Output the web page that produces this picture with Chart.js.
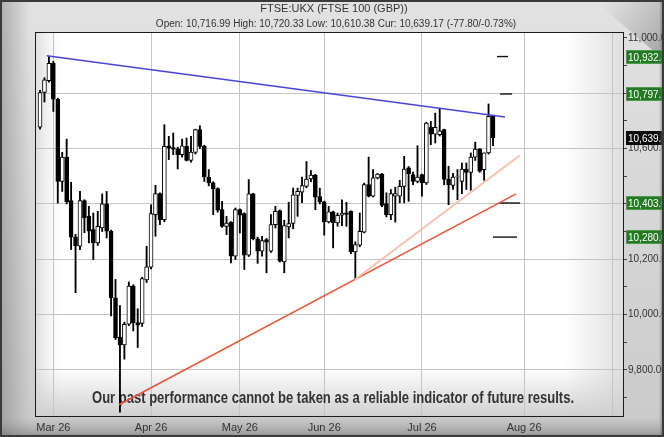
<!DOCTYPE html>
<html>
<head>
<meta charset="utf-8">
<script src="https://cdn.jsdelivr.net/npm/chart.js@4"></script>
<style>
  html, body { margin: 0; padding: 0; background: #d6d6d6; }
  canvas { display: block; }
</style>
</head>
<body>
<canvas id="chart" width="664" height="437"></canvas>
<script>
"use strict";

// ── Daily OHLC, one slot per trading day (late Feb → late Jul) ─────────────
const opens = [
  10677, 10803, 10845, 10908, 10778, 10481, 10569, 10412, 10281, 10247,
  10412, 10355, 10307, 10259, 10313, 10400, 10301, 10061, 9919, 9890,
  9965, 10103, 9971, 9968, 10125, 10171, 10361, 10437, 10343, 10610,
  10603, 10599, 10578, 10608, 10557, 10586, 10668, 10608, 10497, 10476,
  10455, 10379, 10319, 10334, 10211, 10379, 10365, 10215, 10436, 10274,
  10229, 10271, 10229, 10325, 10376, 10190, 10317, 10329, 10431, 10442,
  10463, 10490, 10504, 10426, 10407, 10335, 10371, 10331, 10359, 10368,
  10373, 10226, 10251, 10298, 10470, 10428, 10494, 10508, 10401, 10361,
  10428, 10428, 10463, 10530, 10506, 10481, 10506, 10476, 10677, 10652,
  10650, 10668, 10490, 10467, 10497, 10481, 10526, 10514, 10569, 10598,
  10524, 10584, 10717
];
const highs = [
  10810, 10856, 10932, 10915, 10782, 10586, 10634, 10478, 10290, 10445,
  10415, 10391, 10367, 10373, 10436, 10445, 10305, 10127, 10033, 9973,
  10118, 10108, 10021, 10135, 10247, 10397, 10467, 10440, 10686, 10644,
  10656, 10605, 10634, 10638, 10644, 10670, 10682, 10612, 10524, 10480,
  10458, 10409, 10355, 10336, 10385, 10382, 10368, 10488, 10438, 10280,
  10283, 10275, 10361, 10391, 10378, 10341, 10406, 10457, 10457, 10497,
  10553, 10521, 10507, 10457, 10410, 10391, 10374, 10367, 10415, 10406,
  10375, 10263, 10367, 10475, 10569, 10524, 10510, 10510, 10440, 10452,
  10460, 10485, 10572, 10535, 10515, 10610, 10508, 10695, 10698, 10728,
  10746, 10670, 10536, 10510, 10524, 10548, 10548, 10584, 10623, 10600,
  10584, 10761, 10720
];
const lows = [
  10670, 10768, 10840, 10734, 10403, 10445, 10400, 10235, 10079, 10235,
  10296, 10259, 10199, 10250, 10300, 10277, 9995, 9910, 9647, 9839,
  9960, 9941, 9881, 9957, 10116, 10165, 10283, 10325, 10335, 10560,
  10578, 10526, 10569, 10555, 10551, 10580, 10600, 10481, 10465, 10361,
  10370, 10315, 10289, 10187, 10199, 10295, 10163, 10210, 10270, 10185,
  10211, 10151, 10225, 10313, 10190, 10151, 10277, 10310, 10355, 10404,
  10458, 10480, 10379, 10400, 10287, 10331, 10241, 10319, 10321, 10319,
  10220, 10127, 10245, 10295, 10425, 10425, 10490, 10390, 10353, 10343,
  10334, 10404, 10404, 10409, 10469, 10476, 10428, 10470, 10614, 10620,
  10645, 10469, 10397, 10452, 10415, 10437, 10452, 10449, 10557, 10514,
  10485, 10580, 10610
];
const closes = [
  10802, 10848, 10908, 10778, 10481, 10569, 10407, 10280, 10248, 10412,
  10349, 10301, 10259, 10319, 10400, 10301, 10061, 9917, 9890, 9965,
  10103, 9971, 9962, 10130, 10173, 10365, 10437, 10343, 10608, 10602,
  10598, 10578, 10610, 10557, 10587, 10668, 10608, 10497, 10476, 10454,
  10377, 10319, 10331, 10211, 10379, 10359, 10215, 10436, 10274, 10229,
  10267, 10262, 10325, 10373, 10193, 10322, 10329, 10433, 10445, 10466,
  10490, 10504, 10424, 10407, 10335, 10371, 10331, 10359, 10367, 10362,
  10226, 10253, 10301, 10470, 10428, 10494, 10508, 10394, 10361, 10437,
  10437, 10463, 10526, 10509, 10481, 10497, 10476, 10692, 10652, 10677,
  10664, 10488, 10469, 10497, 10499, 10526, 10514, 10569, 10598, 10518,
  10584, 10716, 10639
];

// month gridlines sit on the first trading day of each month
const monthIdx = [3, 25, 45, 64, 86, 109, 129];
const monthLabels = ["Mar 26", "Apr 26", "May 26", "Jun 26", "Jul 26", "Aug 26", ""];

// trend lines: [start, end] as slot index and price
const resistX = [1.5, 104.7];
const resistY = [10935, 10714];
const supportX = [17.8, 107.2];
const supportY = [9674, 10436];
const innerSupportX = [70.9, 108];
const innerSupportY = [10127, 10575];

// target levels: short dashes near the last candle plus boxes on the axis
const targetLevels = [10932.3, 10797.1, 10403.0, 10280.0];
const targetFrom = [102.9, 103.6, 103.4, 102.0];
const targetTo = [105.4, 106.3, 108.1, 107.4];
const currentPrice = 10639.17;

const title = "FTSE:UKX (FTSE 100 (GBP))";
const subtitle = "Open: 10,716.99 High: 10,720.33 Low: 10,610.38 Cur: 10,639.17 (-77.80/-0.73%)";
const disclaimer = "Our past performance cannot be taken as a reliable indicator of future results.";

const fmt2 = (v) => v.toLocaleString("en-US", { minimumFractionDigits: 2, maximumFractionDigits: 2 });
const SANS = '"Liberation Sans", Arial, sans-serif';

// ── datasets ─────────────────────────────────────────────────────────────
const bodies = opens.map((o, i) => {
  let lo = Math.min(o, closes[i]), hi = Math.max(o, closes[i]);
  if (hi - lo < 2) { lo -= 1; hi += 1; }
  return { x: i, y: [lo, hi] };
});
const wicks = highs.map((h, i) => ({ x: i, y: [lows[i], h] }));
const seg = (xs, ys) => xs.map((x, i) => ({ x, y: ys[i] }));

const lineDs = (data, color, width) => ({
  type: "line", data, borderColor: color, borderWidth: width,
  pointRadius: 0, tension: 0, order: 0,
});

const datasets = [
  {
    type: "bar", data: bodies, order: 1, grouped: false, barThickness: 4,
    backgroundColor: (c) => (closes[c.dataIndex] >= opens[c.dataIndex] ? "#ffffff" : "#000000"),
    borderColor: "#000000", borderWidth: 1, borderSkipped: false,
  },
  { type: "bar", data: wicks, order: 2, grouped: false, barThickness: 1.2, backgroundColor: "#000000" },
  lineDs(seg(innerSupportX, innerSupportY), "#f3c3ae", 2),
  lineDs(seg(supportX, supportY), "#e8583c", 1.6),
  lineDs(seg(resistX, resistY), "#4646d8", 1.5),
];
targetLevels.forEach((lv, k) => {
  datasets.push(lineDs(seg([targetFrom[k], targetTo[k]], [lv, lv]), "#111111", 1.4));
});

// ── frame, backgrounds and overlay text ──────────────────────────────────
const framePlugin = {
  id: "frame",
  beforeDraw(chart) {
    const { ctx, chartArea: a, width: W, height: H } = chart;
    ctx.save();
    let g = ctx.createLinearGradient(0, 0, 0, H);
    g.addColorStop(0, "#e2e2e2");
    g.addColorStop(1, "#cacaca");
    ctx.fillStyle = g;
    ctx.fillRect(0, 0, W, H);
    // left edge shade
    g = ctx.createLinearGradient(0, 0, 30, 0);
    g.addColorStop(0, "rgba(120,120,120,0.5)");
    g.addColorStop(1, "rgba(120,120,120,0)");
    ctx.fillStyle = g;
    ctx.fillRect(0, 0, 30, H);
    // bottom shade
    g = ctx.createLinearGradient(0, a.bottom, 0, H);
    g.addColorStop(0, "rgba(150,150,150,0)");
    g.addColorStop(1, "rgba(110,110,110,0.6)");
    ctx.fillStyle = g;
    ctx.fillRect(0, a.bottom, W, H - a.bottom);
    // top-right bevel
    g = ctx.createLinearGradient(W - 60, 0, W, 40);
    g.addColorStop(0, "rgba(140,140,140,0)");
    g.addColorStop(1, "rgba(120,120,120,0.5)");
    ctx.fillStyle = g;
    ctx.beginPath();
    ctx.moveTo(W - 70, 0); ctx.lineTo(W, 0); ctx.lineTo(W, 60);
    ctx.closePath(); ctx.fill();

    // plot area
    ctx.fillStyle = "#ffffff";
    ctx.fillRect(a.left, a.top, a.width, a.height);
    g = ctx.createLinearGradient(a.left, 0, a.left + 32, 0);
    g.addColorStop(0, "#dcdcdc");
    g.addColorStop(1, "rgba(255,255,255,0)");
    ctx.fillStyle = g;
    ctx.fillRect(a.left, a.top, 32, a.height);
    g = ctx.createLinearGradient(a.right - 60, 0, a.right, 0);
    g.addColorStop(0, "rgba(225,225,225,0)");
    g.addColorStop(1, "#dedede");
    ctx.fillStyle = g;
    ctx.fillRect(a.right - 60, a.top, 60, a.height);
    g = ctx.createLinearGradient(0, a.bottom - 50, 0, a.bottom);
    g.addColorStop(0, "rgba(210,210,210,0)");
    g.addColorStop(1, "#cfcfcf");
    ctx.fillStyle = g;
    ctx.fillRect(a.left, a.bottom - 50, a.width, 50);
    ctx.restore();
  },
  beforeDatasetsDraw(chart) {
    const { ctx } = chart;
    ctx.save();
    ctx.font = 'bold 16px "Liberation Sans Narrow", "Arial Narrow", ' + SANS;
    const w = ctx.measureText(disclaimer).width;
    const sx = 482 / w;
    ctx.translate(333, 399);
    ctx.scale(sx, 1);
    ctx.fillStyle = "#333333";
    ctx.textAlign = "center";
    ctx.textBaseline = "middle";
    ctx.fillText(disclaimer, 0, 0);
    ctx.restore();
  },
  afterDraw(chart) {
    const { ctx, chartArea: a, width: W, height: H } = chart;
    const y = chart.scales.y;
    ctx.save();
    // plot border
    ctx.strokeStyle = "#1c1c1c";
    ctx.lineWidth = 1;
    ctx.strokeRect(Math.round(a.left) + 0.5, Math.round(a.top) + 0.5,
      Math.round(a.width) - 1, Math.round(a.height) - 1);

    // level boxes on the price axis
    ctx.font = "10px " + SANS;
    ctx.textBaseline = "middle";
    const box = (v, fill, stroke) => {
      const py = Math.round(y.getPixelForValue(v));
      ctx.fillStyle = fill;
      ctx.fillRect(a.right + 2, py - 7, W - a.right, 14);
      ctx.strokeStyle = stroke;
      ctx.strokeRect(a.right + 2.5, py - 6.5, W - a.right, 13);
      ctx.fillStyle = "#ffffff";
      ctx.fillText(fmt2(v), a.right + 4, py + 1);
    };
    targetLevels.forEach((v) => box(v, "#237a23", "#4c9a4c"));
    box(currentPrice, "#0c0c0c", "#0c0c0c");

    // right bevel over the clipped labels
    let g = ctx.createLinearGradient(W - 5, 0, W, 0);
    g.addColorStop(0, "rgba(120,120,120,0)");
    g.addColorStop(1, "rgba(90,90,90,0.85)");
    ctx.fillStyle = g;
    ctx.fillRect(W - 5, 0, 5, H);

    // titles
    ctx.fillStyle = "#333333";
    ctx.textAlign = "center";
    ctx.font = "11px " + SANS;
    ctx.fillText(title, 334, 9);
    ctx.font = "10px " + SANS;
    ctx.fillText(subtitle, 336, 24);

    // outer border
    ctx.strokeStyle = "#3a3a3a";
    ctx.lineWidth = 2;
    ctx.strokeRect(1, 1, W - 2, H - 2);
    ctx.restore();
  },
};

new Chart(document.getElementById("chart"), {
  type: "bar",
  data: { datasets },
  plugins: [framePlugin],
  options: {
    responsive: false,
    animation: false,
    devicePixelRatio: 1,
    layout: { padding: { left: 35, top: 32, right: 0, bottom: 0 } },
    plugins: { legend: { display: false }, tooltip: { enabled: false } },
    scales: {
      x: {
        type: "linear", min: -1.13, max: 131.5, offset: false,
        afterFit: (s) => { s.height = 20; },
        afterBuildTicks: (s) => { s.ticks = monthIdx.map((v) => ({ value: v })); },
        grid: { color: "#c4c4c4", drawTicks: false, offset: false },
        border: { display: false },
        ticks: {
          autoSkip: false, maxRotation: 0, padding: 4, color: "#333333",
          font: { family: SANS, size: 11 },
          callback: (v, i) => monthLabels[i],
        },
      },
      y: {
        position: "right", min: 9630, max: 11021,
        afterFit: (s) => { s.width = 40; },
        afterBuildTicks: (s) => {
          const t = [];
          for (let v = 9700; v <= 11000; v += 100) t.push({ value: v });
          s.ticks = t;
        },
        grid: {
          color: (c) => (c.tick && c.tick.value % 200 === 0 && c.tick.value !== 11000 ? "#c4c4c4" : "rgba(0,0,0,0)"),
          tickColor: "#444444", tickLength: 3,
        },
        border: { display: false },
        ticks: {
          padding: 1, color: "#333333", font: { family: SANS, size: 10 },
          callback: (v) => (v % 200 === 0 ? fmt2(v) : ""),
        },
      },
    },
  },
});
</script>
</body>
</html>
